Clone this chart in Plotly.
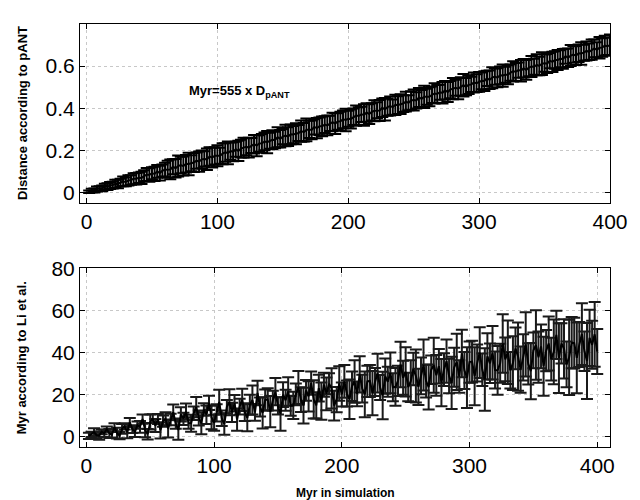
import plotly.graph_objects as go
from plotly.subplots import make_subplots

# simulation time (Myr), one sample every 2 Myr
myr_sim = list(range(2, 401, 2))

# distance according to pANT (top panel)
dist_pant = [
    0.003, 0.009, 0.009, 0.016, 0.018, 0.019, 0.028, 0.027, 0.033, 0.035,
    0.041, 0.040, 0.047, 0.052, 0.050, 0.057, 0.059, 0.065, 0.065, 0.070,
    0.069, 0.079, 0.085, 0.083, 0.091, 0.088, 0.100, 0.092, 0.103, 0.108,
    0.110, 0.109, 0.122, 0.115, 0.125, 0.130, 0.125, 0.136, 0.135, 0.139,
    0.142, 0.151, 0.146, 0.157, 0.159, 0.157, 0.171, 0.165, 0.174, 0.174,
    0.174, 0.184, 0.190, 0.188, 0.196, 0.193, 0.205, 0.197, 0.208, 0.213,
    0.217, 0.213, 0.223, 0.229, 0.222, 0.232, 0.233, 0.242, 0.239, 0.245,
    0.250, 0.249, 0.262, 0.255, 0.265, 0.270, 0.265, 0.276, 0.275, 0.279,
    0.282, 0.291, 0.286, 0.297, 0.299, 0.297, 0.311, 0.305, 0.314, 0.314,
    0.322, 0.318, 0.328, 0.334, 0.327, 0.337, 0.338, 0.347, 0.344, 0.350,
    0.349, 0.359, 0.365, 0.363, 0.371, 0.368, 0.380, 0.372, 0.383, 0.388,
    0.390, 0.389, 0.402, 0.395, 0.405, 0.410, 0.405, 0.416, 0.415, 0.419,
    0.422, 0.431, 0.426, 0.437, 0.439, 0.437, 0.451, 0.445, 0.454, 0.454,
    0.454, 0.464, 0.470, 0.468, 0.476, 0.473, 0.485, 0.477, 0.488, 0.493,
    0.497, 0.493, 0.503, 0.509, 0.502, 0.512, 0.513, 0.522, 0.519, 0.525,
    0.530, 0.529, 0.542, 0.535, 0.545, 0.550, 0.545, 0.556, 0.555, 0.559,
    0.559, 0.569, 0.575, 0.573, 0.581, 0.578, 0.590, 0.582, 0.593, 0.598,
    0.597, 0.606, 0.601, 0.612, 0.614, 0.612, 0.626, 0.620, 0.629, 0.629,
    0.635, 0.634, 0.647, 0.640, 0.650, 0.655, 0.650, 0.661, 0.660, 0.664,
    0.672, 0.668, 0.678, 0.684, 0.677, 0.687, 0.688, 0.697, 0.694, 0.700,
]
dist_err = [
    0.006, 0.008, 0.010, 0.012, 0.011, 0.014, 0.013, 0.016, 0.017, 0.016,
    0.019, 0.020, 0.018, 0.023, 0.021, 0.024, 0.023, 0.026, 0.027, 0.025,
    0.029, 0.026, 0.031, 0.032, 0.028, 0.034, 0.030, 0.035, 0.029, 0.033,
    0.040, 0.047, 0.036, 0.044, 0.050, 0.039, 0.045, 0.042, 0.053, 0.038,
    0.045, 0.039, 0.048, 0.042, 0.036, 0.051, 0.044, 0.047, 0.041, 0.050,
    0.038, 0.050, 0.044, 0.054, 0.041, 0.045, 0.036, 0.048, 0.042, 0.047,
    0.040, 0.047, 0.036, 0.044, 0.050, 0.039, 0.045, 0.042, 0.053, 0.038,
    0.045, 0.039, 0.048, 0.042, 0.036, 0.051, 0.044, 0.047, 0.041, 0.050,
    0.038, 0.050, 0.044, 0.054, 0.041, 0.045, 0.036, 0.048, 0.042, 0.047,
    0.040, 0.047, 0.036, 0.044, 0.050, 0.039, 0.045, 0.042, 0.053, 0.038,
    0.045, 0.039, 0.048, 0.042, 0.036, 0.051, 0.044, 0.047, 0.041, 0.050,
    0.038, 0.050, 0.044, 0.054, 0.041, 0.045, 0.036, 0.048, 0.042, 0.047,
    0.040, 0.047, 0.036, 0.044, 0.050, 0.039, 0.045, 0.042, 0.053, 0.038,
    0.045, 0.039, 0.048, 0.042, 0.036, 0.051, 0.044, 0.047, 0.041, 0.050,
    0.038, 0.050, 0.044, 0.054, 0.041, 0.045, 0.036, 0.048, 0.042, 0.047,
    0.040, 0.047, 0.036, 0.044, 0.050, 0.039, 0.045, 0.042, 0.053, 0.038,
    0.045, 0.039, 0.048, 0.042, 0.036, 0.051, 0.044, 0.047, 0.041, 0.050,
    0.038, 0.050, 0.044, 0.054, 0.041, 0.045, 0.036, 0.048, 0.042, 0.047,
    0.040, 0.047, 0.036, 0.044, 0.050, 0.039, 0.045, 0.042, 0.053, 0.038,
    0.045, 0.039, 0.048, 0.042, 0.036, 0.051, 0.044, 0.047, 0.041, 0.050,
]

# Myr according to Li et al. (bottom panel)
myr_li = [
    0.3, 1.0, 2.1, 0.6, 0.4, 2.2, 1.5, 3.5, 1.4, 0.9,
    4.4, 1.6, 0.4, 3.6, 4.8, 2.0, 6.7, 3.5, 2.2, 5.4,
    4.6, 8.3, 3.0, 1.1, 6.9, 8.5, 5.2, 8.3, 2.9, 7.3,
    8.4, 3.8, 8.1, 11.5, 6.1, 3.1, 10.5, 8.4, 11.8, 6.4,
    6.3, 11.0, 14.0, 8.8, 6.3, 12.8, 10.3, 16.0, 9.0, 6.5,
    11.2, 16.4, 8.7, 5.9, 14.1, 16.3, 11.5, 15.8, 8.0, 14.2,
    17.4, 11.6, 8.9, 15.1, 17.3, 11.5, 20.7, 14.0, 11.2, 17.4,
    17.6, 11.8, 17.1, 21.3, 14.5, 10.7, 19.9, 17.2, 21.4, 14.6,
    14.8, 20.0, 23.3, 17.5, 14.7, 21.9, 19.1, 25.4, 17.6, 14.8,
    23.0, 16.8, 24.6, 20.3, 25.1, 22.9, 14.7, 17.5, 25.2, 20.0,
    26.2, 20.4, 17.7, 23.9, 26.1, 20.3, 29.5, 22.8, 20.0, 26.2,
    26.4, 20.6, 25.9, 30.1, 23.3, 19.5, 28.7, 26.0, 30.2, 23.4,
    23.6, 26.4, 34.2, 27.9, 30.7, 23.5, 26.3, 32.1, 28.8, 23.6,
    28.8, 34.0, 26.3, 23.5, 31.7, 33.9, 29.1, 33.4, 25.6, 31.8,
    35.8, 28.8, 25.5, 32.9, 35.5, 28.5, 39.5, 31.4, 28.0, 35.4,
    35.6, 28.6, 34.9, 39.9, 31.7, 27.1, 38.1, 34.8, 39.8, 31.6,
    31.4, 34.8, 44.2, 36.7, 40.1, 31.5, 34.9, 41.9, 38.0, 31.8,
    37.6, 43.8, 34.5, 31.1, 40.9, 43.5, 37.7, 42.8, 33.4, 40.8,
    44.2, 36.8, 40.2, 48.3, 37.3, 44.3, 41.7, 34.3, 37.6, 44.6,
    44.4, 37.4, 43.7, 48.7, 40.5, 35.9, 46.9, 43.6, 48.6, 40.4,
]
li_err = [
    1.5, 1.2, 1.8, 1.4, 2.0, 1.1, 1.7, 1.3, 2.1, 1.4,
    1.9, 2.6, 1.7, 2.3, 1.5, 2.8, 2.1, 1.8, 2.4, 1.7,
    2.8, 2.2, 3.4, 2.5, 3.6, 2.1, 3.1, 2.4, 3.9, 2.7,
    3.1, 4.3, 2.7, 3.7, 2.4, 4.6, 3.4, 2.9, 3.9, 2.7,
    4.0, 3.2, 4.8, 3.6, 5.2, 3.0, 4.4, 3.4, 5.6, 3.8,
    4.1, 5.8, 3.7, 5.1, 3.2, 6.2, 4.6, 3.9, 5.3, 3.7,
    5.3, 4.2, 6.4, 4.8, 6.9, 4.0, 5.8, 4.5, 7.4, 5.0,
    5.3, 7.4, 4.7, 6.5, 4.1, 8.0, 5.9, 5.0, 6.8, 4.7,
    6.5, 5.2, 7.8, 5.9, 8.5, 4.9, 7.2, 5.5, 9.1, 6.2,
    6.4, 8.9, 5.7, 7.8, 5.0, 9.6, 7.1, 6.0, 8.2, 5.7,
    7.8, 6.2, 9.4, 7.0, 10.1, 5.9, 8.6, 6.6, 10.9, 7.4,
    7.6, 10.5, 6.7, 9.2, 5.9, 11.3, 8.4, 7.1, 9.7, 6.7,
    9.0, 7.2, 10.8, 8.1, 11.7, 6.8, 9.9, 7.7, 12.6, 8.6,
    8.7, 12.1, 7.8, 10.7, 6.8, 13.1, 9.7, 8.2, 11.2, 7.8,
    10.3, 8.2, 12.4, 9.3, 13.4, 7.7, 11.3, 8.8, 14.4, 9.8,
    9.9, 13.8, 8.8, 12.1, 7.7, 14.9, 11.0, 9.4, 12.7, 8.8,
    11.6, 9.3, 13.9, 10.4, 15.1, 8.7, 12.8, 9.9, 16.2, 11.0,
    11.0, 15.3, 9.8, 13.4, 8.5, 16.5, 12.2, 10.4, 14.0, 9.8,
    12.8, 10.2, 15.4, 11.5, 16.6, 9.6, 14.1, 10.9, 17.9, 12.2,
    12.1, 16.8, 10.7, 14.7, 9.4, 18.1, 13.4, 11.4, 15.4, 10.7,
]

fig = make_subplots(rows=2, cols=1, vertical_spacing=0.15)

fig.add_trace(go.Scatter(
    x=myr_sim, y=dist_pant, mode="lines",
    line=dict(color="black", width=2),
    error_y=dict(type="data", array=dist_err, color="black", thickness=2, width=6),
    showlegend=False), row=1, col=1)

fig.add_trace(go.Scatter(
    x=myr_sim, y=myr_li, mode="lines",
    line=dict(color="black", width=2),
    error_y=dict(type="data", array=li_err, color="#1a1a1a", thickness=2, width=6),
    showlegend=False), row=2, col=1)

axis_style = dict(
    showline=True, linecolor="black", linewidth=1, mirror="ticks",
    ticks="inside", ticklen=5, tickcolor="black",
    showgrid=True, gridcolor="#c8c8c8", griddash="dot", gridwidth=1,
    zeroline=False,
    tickfont=dict(family="Liberation Sans, Arial", size=21, color="black"),
)

fig.update_xaxes(axis_style)
fig.update_yaxes(axis_style)

fig.update_xaxes(range=[-5, 400], tickvals=[0, 100, 200, 300, 400], domain=[0, 1], row=1, col=1)
fig.update_xaxes(range=[-5, 410], tickvals=[0, 100, 200, 300, 400], domain=[0, 1], row=2, col=1)
fig.update_yaxes(range=[-0.05, 0.8], tickvals=[0, 0.2, 0.4, 0.6], ticktext=["0", "0.2", "0.4", "0.6"],
                 domain=[0.577, 1.0], row=1, col=1)
fig.update_yaxes(range=[-5, 80], tickvals=[0, 20, 40, 60, 80], domain=[0, 0.4226], row=2, col=1)

lab = dict(family="Liberation Sans, Arial", size=13, color="black")

fig.add_annotation(text="<b>Myr=555 x D<sub>pANT</sub></b>", x=77, y=0.48, xref="x", yref="y",
                   xanchor="left", yanchor="middle", showarrow=False,
                   font=dict(family="Liberation Sans, Arial", size=13, color="black"))
fig.add_annotation(text="<b>Distance according to pANT</b>", textangle=-90,
                   x=-0.107, y=0.79, xref="paper", yref="paper",
                   xanchor="center", yanchor="middle", showarrow=False, font=lab)
fig.add_annotation(text="<b>Myr according to Li et al.</b>", textangle=-90,
                   x=-0.111, y=0.21, xref="paper", yref="paper",
                   xanchor="center", yanchor="middle", showarrow=False, font=lab)
fig.add_annotation(text="<b>Myr in simulation</b>", x=0.5, y=-0.088,
                   xref="paper", yref="paper", xanchor="center", yanchor="top",
                   showarrow=False, font=dict(family="Liberation Sans, Arial", size=12, color="black"))

fig.update_layout(
    width=640, height=500,
    plot_bgcolor="white", paper_bgcolor="white",
    margin=dict(l=80, r=20, t=14, b=53),
)

fig.write_html("out.html", config={"displayModeBar": False},
               post_script="document.body.style.margin='0';document.body.style.overflow='hidden';")
